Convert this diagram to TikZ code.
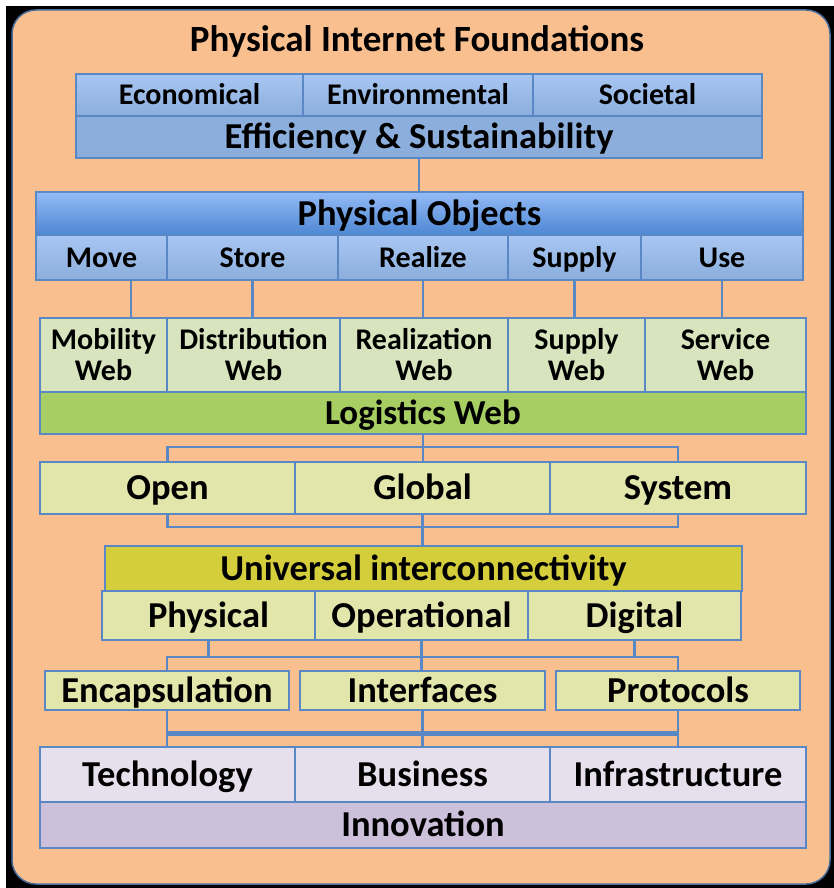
\documentclass[tikz,border=0pt]{standalone}
\usepackage{fontspec}
\setmainfont{Carlito}
\definecolor{bgor}{HTML}{FABF8F}
\definecolor{boxc}{HTML}{5A88C4}
\definecolor{blueA}{HTML}{A8C6F2}
\definecolor{blueB}{HTML}{8BAEDC}
\definecolor{poA}{HTML}{94BBF6}
\definecolor{poB}{HTML}{4D87D3}
\definecolor{webc}{HTML}{D8E4BE}
\definecolor{logc}{HTML}{A6CE62}
\definecolor{ylc}{HTML}{E3E6AA}
\definecolor{unic}{HTML}{D4CE3C}
\definecolor{lavA}{HTML}{E6E0EC}
\definecolor{lavB}{HTML}{CCC0DA}
\newcommand\cellbox[7]{%
  \node[cellbase,#6,minimum width={#4-#2},minimum height={#5-#3}] (#1) at ({(#2+#4)/2},{(#3+#5)/2}) {#7};}
\tikzset{
  cellbase/.style={draw=boxc,line width=1.5pt,inner sep=0pt,outer sep=0pt,align=center,text=black},
  big/.style={font=\fontsize{36.5}{38}\selectfont\bfseries,text height=23.5pt,text depth=0pt},
  mid/.style={font=\fontsize{35}{37}\selectfont\bfseries,text height=22.5pt,text depth=0pt},
  small/.style={font=\fontsize{30}{31}\selectfont\bfseries,text height=19.3pt,text depth=0pt},
  twoline/.style={font=\fontsize{30}{31}\selectfont\bfseries},
  bluecell/.style={top color=blueA,bottom color=blueB},
  pocell/.style={top color=poA,bottom color=poB},
  webcell/.style={fill=webc},
  logcell/.style={fill=logc},
  ylcell/.style={fill=ylc},
  unicell/.style={fill=unic},
  lavcell/.style={fill=lavA},
  innocell/.style={fill=lavB},
  conn/.style={draw=boxc,line width=2.5pt},
  thickconn/.style={draw=boxc,line width=5pt},
}
\begin{document}
\begin{tikzpicture}[x=1pt,y=-1pt]
\useasboundingbox (0,0) rectangle (834,888);
\fill[white] (0,0) rectangle (834,888);
\fill[black] (6,6) rectangle (834,888);
\filldraw[fill=bgor,draw=boxc!80!black,line width=1.5pt,rounded corners=24pt] (12,10) rectangle (830,884);
\node[font=\fontsize{37}{40}\selectfont\bfseries,text height=23.8pt,text depth=0pt,inner sep=0pt] (title) at (417,40) {Physical Internet Foundations};
% row 1
\cellbox{econ}{76}{74}{303}{116}{bluecell,small}{Economical}
\cellbox{envi}{303}{74}{533}{116}{bluecell,small}{Environmental}
\cellbox{soci}{533}{74}{762}{116}{bluecell,small}{Societal}
\cellbox{eff}{76}{116}{762}{158}{fill=blueB,big}{Efficiency \& Sustainability}
% physical objects
\cellbox{po}{36}{192}{803}{235}{pocell,big}{Physical Objects}
\cellbox{move}{36}{235}{167}{280}{bluecell,small}{Move}
\cellbox{store}{167}{235}{338}{280}{bluecell,small}{Store}
\cellbox{realize}{338}{235}{508}{280}{bluecell,small}{Realize}
\cellbox{supply}{508}{235}{641}{280}{bluecell,small}{Supply}
\cellbox{use}{641}{235}{803}{280}{bluecell,small}{Use}
% webs
\cellbox{mob}{40}{318}{167}{392}{webcell,twoline}{Mobility\\Web}
\cellbox{dist}{167}{318}{340}{392}{webcell,twoline}{Distribution\\Web}
\cellbox{real}{340}{318}{508}{392}{webcell,twoline}{Realization\\Web}
\cellbox{supw}{508}{318}{645}{392}{webcell,twoline}{Supply\\Web}
\cellbox{serv}{645}{318}{806}{392}{webcell,twoline}{Service\\Web}
\cellbox{lw}{40}{392}{806}{434}{logcell,mid}{Logistics Web}
% open global system
\cellbox{open}{40}{462}{295}{514}{ylcell,big}{Open}
\cellbox{global}{295}{462}{550}{514}{ylcell,big}{Global}
\cellbox{system}{550}{462}{806}{514}{ylcell,big}{System}
% universal
\cellbox{uni}{105}{546}{742}{591}{unicell,big}{Universal interconnectivity}
\cellbox{phys}{102}{591}{315}{640}{ylcell,big}{Physical}
\cellbox{oper}{315}{591}{528}{640}{ylcell,big}{Operational}
\cellbox{dig}{528}{591}{741}{640}{ylcell,big}{Digital}
% encapsulation
\cellbox{encap}{45}{671}{289}{710}{ylcell,big}{Encapsulation}
\cellbox{intf}{300}{671}{545}{710}{ylcell,big}{Interfaces}
\cellbox{proto}{556}{671}{800}{710}{ylcell,big}{Protocols}
% innovation
\cellbox{tech}{40}{747}{295}{802}{lavcell,big}{Technology}
\cellbox{bus}{295}{747}{550}{802}{lavcell,big}{Business}
\cellbox{infra}{550}{747}{806}{802}{lavcell,big}{Infrastructure}
\cellbox{inno}{40}{802}{806}{848}{innocell,big}{Innovation}
% coordinates
\coordinate (cmove) at (131,0);
\coordinate (b1) at (0,447);
\coordinate (b2) at (0,527);
\coordinate (b3) at (0,657);
\coordinate (b4) at (0,733);
% connectors
\draw[conn] (eff.south) -- (eff.south |- po.north);
\draw[conn] (move.south -| cmove) -- (mob.north -| cmove);
\draw[conn] (store.south) -- (store.south |- dist.north);
\draw[conn] (realize.south) -- (realize.south |- real.north);
\draw[conn] (supply.south) -- (supply.south |- supw.north);
\draw[conn] (use.south) -- (use.south |- serv.north);
\draw[conn] (lw.south) -- (lw.south |- global.north);
\draw[conn] (open.north) -- (open.north |- b1) -- (system.north |- b1) -- (system.north);
\draw[conn] (open.south) -- (open.south |- b2) -- (system.south |- b2) -- (system.south);
\draw[conn] (global.south) -- (global.south |- uni.north);
\draw[conn] (phys.south) -- (phys.south |- b3);
\draw[conn] (dig.south) -- (dig.south |- b3);
\draw[conn] (oper.south) -- (oper.south |- intf.north);
\draw[conn] (encap.north) -- (encap.north |- b3) -- (proto.north |- b3) -- (proto.north);
\draw[conn] (encap.south) -- (encap.south |- tech.north);
\draw[conn] (intf.south) -- (intf.south |- bus.north);
\draw[conn] (proto.south) -- (proto.south |- infra.north);
\draw[thickconn] (encap.south |- b4) -- (proto.south |- b4);
\end{tikzpicture}
\end{document}
